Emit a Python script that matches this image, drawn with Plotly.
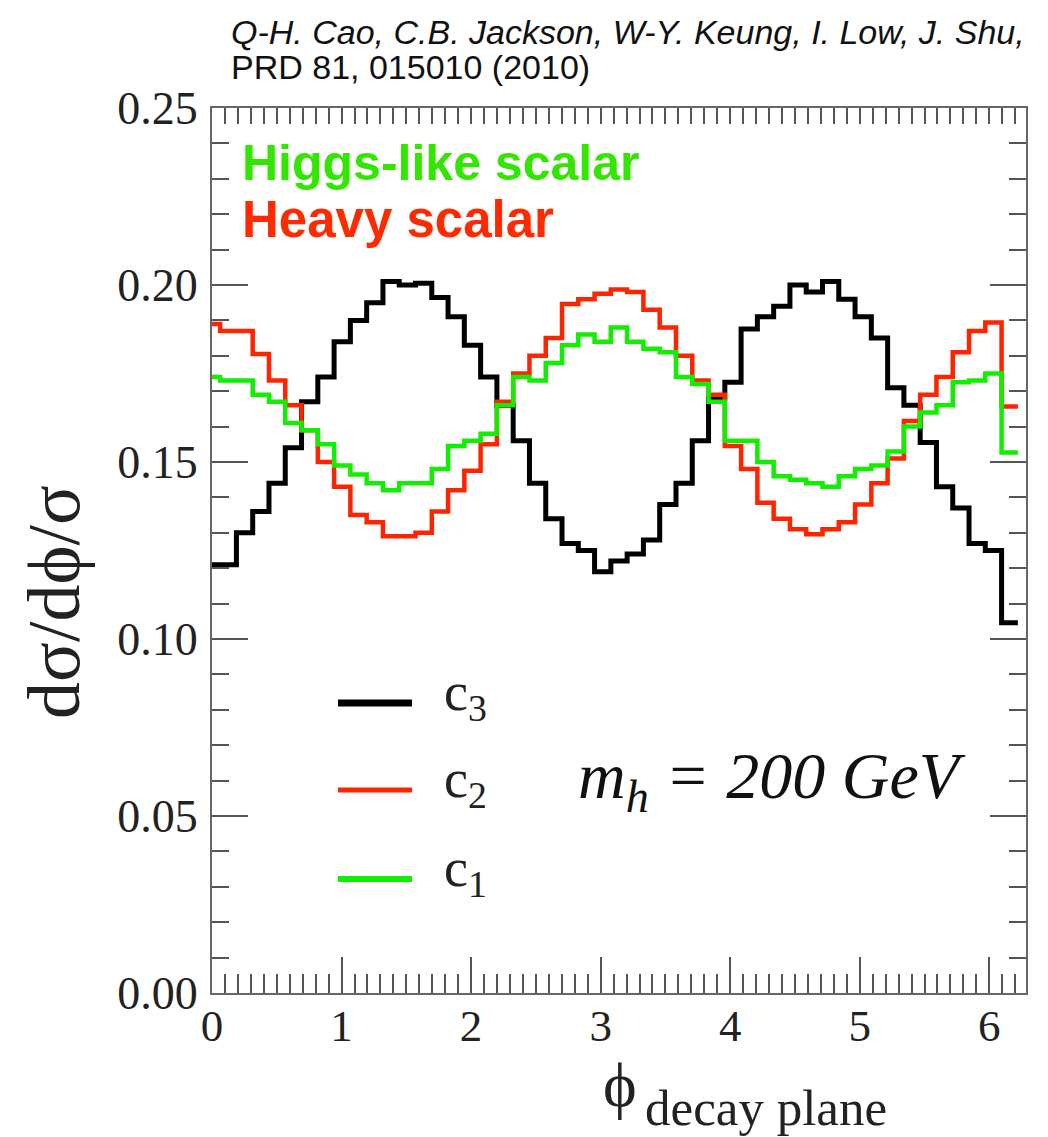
import numpy as np
import plotly.graph_objects as go

# ---------------- data ----------------
n_bins = 50
c3_vals = [0.121, 0.121, 0.130, 0.136, 0.144, 0.154, 0.167, 0.174, 0.184, 0.190,
           0.195, 0.201, 0.200, 0.2005, 0.1965, 0.191, 0.183, 0.174, 0.166, 0.156,
           0.144, 0.134, 0.127, 0.125, 0.119, 0.122, 0.124, 0.128, 0.138, 0.144,
           0.156, 0.168, 0.1725, 0.1876, 0.191, 0.194, 0.200, 0.198, 0.201, 0.196,
           0.191, 0.185, 0.171, 0.166, 0.1555, 0.143, 0.137, 0.127, 0.125, 0.1046]
c2_vals = [0.189, 0.187, 0.187, 0.1805, 0.173, 0.166, 0.159, 0.150, 0.143, 0.135,
           0.133, 0.129, 0.129, 0.130, 0.136, 0.142, 0.1475, 0.155, 0.167, 0.175,
           0.180, 0.185, 0.1946, 0.196, 0.1975, 0.1987, 0.198, 0.193, 0.188, 0.180,
           0.173, 0.169, 0.1545, 0.148, 0.1385, 0.134, 0.131, 0.1296, 0.131, 0.133,
           0.138, 0.144, 0.151, 0.1616, 0.169, 0.174, 0.181, 0.187, 0.1894, 0.1657]
c1_vals = [0.174, 0.173, 0.173, 0.169, 0.167, 0.161, 0.159, 0.155, 0.149, 0.1465,
           0.144, 0.142, 0.144, 0.144, 0.148, 0.1545, 0.156, 0.158, 0.166, 0.174,
           0.173, 0.178, 0.183, 0.186, 0.184, 0.188, 0.184, 0.182, 0.181, 0.174,
           0.172, 0.167, 0.156, 0.156, 0.150, 0.146, 0.145, 0.144, 0.143, 0.146,
           0.148, 0.149, 0.153, 0.160, 0.164, 0.166, 0.1725, 0.173, 0.175, 0.1527]

x_tick_vals = [0, 1, 2, 3, 4, 5, 6]
y_tick_vals = [0.00, 0.05, 0.10, 0.15, 0.20, 0.25]
y_tick_text = ["0.00", "0.05", "0.10", "0.15", "0.20", "0.25"]

# bins centred on k*w (first one clipped at 0)
w = 2 * np.pi / n_bins
edges = np.clip((np.arange(n_bins + 1) - 0.5) * w, 0, None)

SERIF = "Liberation Serif"
SANS = "Liberation Sans"

fig = go.Figure()
for vals, col, lw in [(c3_vals, "#000000", 5),
                      (c2_vals, "#ff2400", 4.5),
                      (c1_vals, "#11ee00", 4.5)]:
    fig.add_trace(go.Scatter(x=edges, y=list(vals) + [vals[-1]], mode="lines",
                             line=dict(color=col, width=lw, shape="hv"),
                             showlegend=False, hoverinfo="skip"))

# plot area in page pixels (page body has an 8px margin)
OFF = 8
L, R, T, B = 212, 1026, 108, 993
W, H = R - L, B - T
def px(x):
    return (x - L) / W
def py(y):
    return (B - y) / H

axis_common = dict(showline=True, linecolor="#666", linewidth=2, ticks="inside",
                   tickcolor="#555", tickwidth=1.5, showgrid=False, zeroline=False,
                   automargin=False)

fig.update_layout(
    width=1048 - OFF, height=1137 - OFF,
    margin=dict(l=L - OFF, r=1048 - R, t=T - OFF, b=1137 - B),
    paper_bgcolor="white", plot_bgcolor="white",
    xaxis=dict(range=[0, 2 * np.pi], tickvals=x_tick_vals, ticklen=36, mirror=True,
               minor=dict(dtick=0.1, ticklen=19, tickcolor="#555", ticks="inside", tickwidth=1.5),
               tickfont=dict(family=SERIF, size=45, color="#222"),
               ticklabelstandoff=-8, **axis_common),
    xaxis2=dict(range=[0, 2 * np.pi], overlaying="x", side="top", showline=False,
                ticks="inside", dtick=0.1, tick0=0, ticklen=16, tickcolor="#555",
                tickwidth=1.5, showticklabels=False, showgrid=False, zeroline=False,
                automargin=False),
    yaxis=dict(range=[0, 0.25], tickvals=y_tick_vals, ticktext=y_tick_text, ticklen=36,
               mirror="ticks",
               minor=dict(dtick=0.01, ticklen=17, tickcolor="#555", ticks="inside", tickwidth=1.5),
               tickfont=dict(family=SERIF, size=46, color="#222"),
               ticklabelstandoff=3, **axis_common),
)
# dummy trace to activate the top axis
fig.add_trace(go.Scatter(x=[0], y=[None], xaxis="x2", showlegend=False, hoverinfo="skip"))

ann = []
ann.append(dict(text="<i>Q-H. Cao, C.B. Jackson, W-Y. Keung, I. Low, J. Shu,</i>",
                x=px(229), y=py(32), xanchor="left", yanchor="middle",
                font=dict(family=SANS, size=34, color="#111")))
ann.append(dict(text="PRD 81, 015010 (2010)",
                x=px(229), y=py(67), xanchor="left", yanchor="middle",
                font=dict(family=SANS, size=34, color="#111")))
ann.append(dict(text="<b>Higgs-like scalar</b>", x=px(240), y=py(163),
                xanchor="left", yanchor="middle",
                font=dict(family=SANS, size=50, color="#33e600")))
ann.append(dict(text="<b>Heavy scalar</b>", x=px(240), y=py(220),
                xanchor="left", yanchor="middle",
                font=dict(family=SANS, size=51, color="#ff2a00")))
ann.append(dict(text="dσ/dϕ/σ", x=px(54), y=py(602), textangle=-90,
                xanchor="center", yanchor="middle",
                font=dict(family=SERIF, size=74, color="#222")))
ann.append(dict(text="ϕ", x=px(620), y=py(1084),
                xanchor="center", yanchor="middle",
                font=dict(family=SERIF, size=64, color="#222")))
ann.append(dict(text="decay plane", x=px(643), y=py(1108),
                xanchor="left", yanchor="middle",
                font=dict(family=SERIF, size=51, color="#222")))
ann.append(dict(text="<i>m<sub>h</sub> = 200 GeV</i>", x=px(576), y=py(780),
                xanchor="left", yanchor="middle",
                font=dict(family=SERIF, size=66, color="#111")))

legend_rows = [("c<sub>3</sub>", "#000000", 7, 703),
               ("c<sub>2</sub>", "#ff2400", 5, 790),
               ("c<sub>1</sub>", "#11ee00", 6, 879)]
shapes = []
for lab, col, lw, yy in legend_rows:
    shapes.append(dict(type="line", xref="paper", yref="paper",
                       x0=px(338), x1=px(412), y0=py(yy), y1=py(yy),
                       line=dict(color=col, width=lw)))
    ann.append(dict(text=lab, x=px(442), y=py(yy - 8), xanchor="left", yanchor="middle",
                    font=dict(family=SERIF, size=54, color="#222")))

for a in ann:
    a.update(xref="paper", yref="paper", showarrow=False)
fig.update_layout(annotations=ann, shapes=shapes)

fig.write_html("out.html")
